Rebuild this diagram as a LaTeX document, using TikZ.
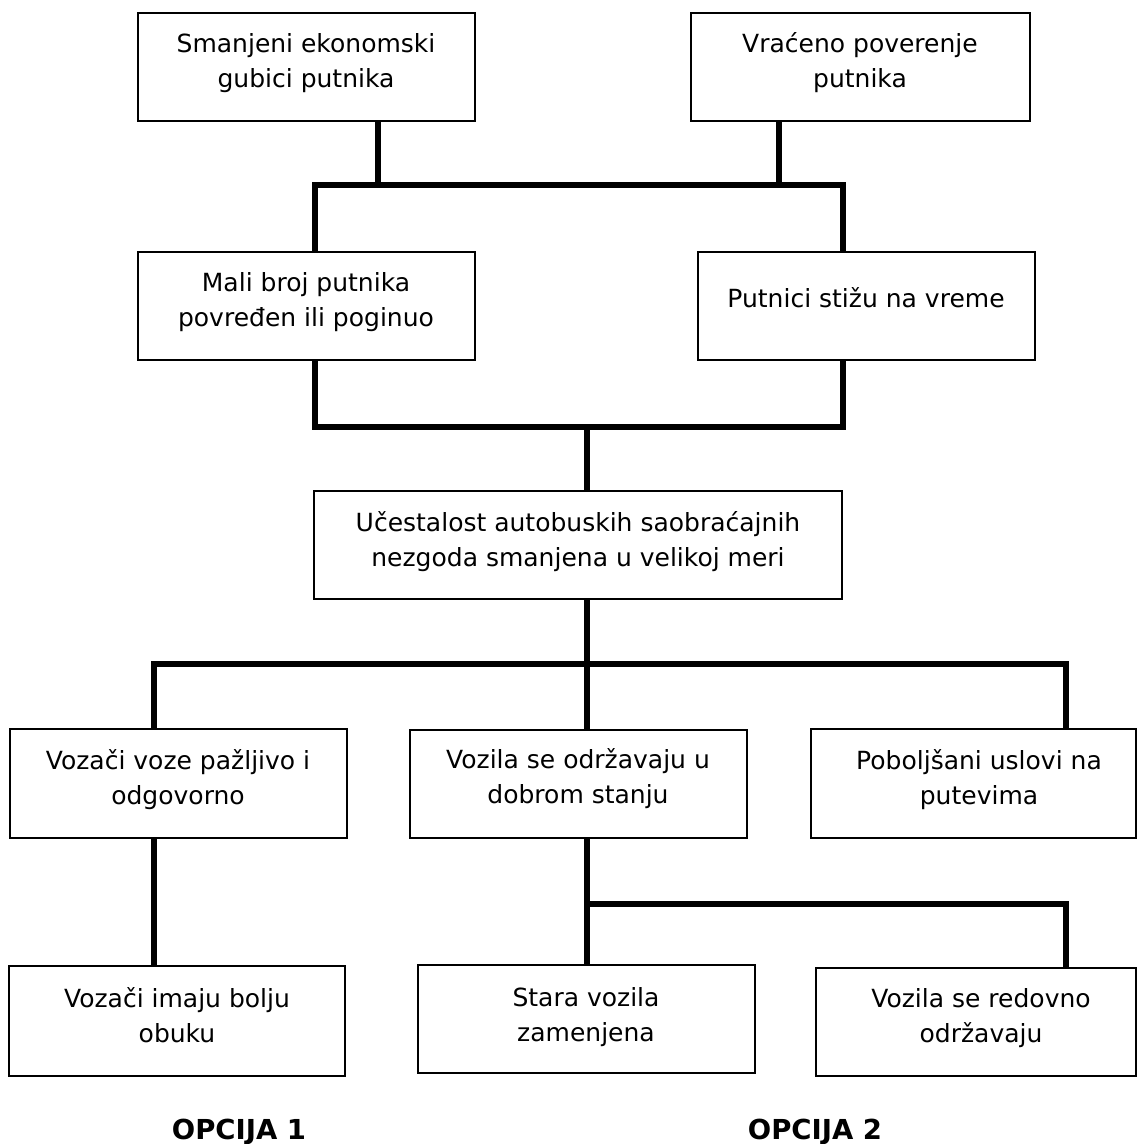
\documentclass[tikz,border=0pt]{standalone}
\usepackage{fontspec}
\setmainfont{DejaVu Sans}
\begin{document}
\begin{tikzpicture}[x=1pt,y=-1pt,
  box/.style={draw=black, line width=1.6pt, inner sep=0pt,
              minimum width=337pt, minimum height=108pt},
  txt/.style={align=center, inner sep=0pt,
              font=\fontsize{25}{35}\selectfont},
  conn/.style={line width=6pt, line join=miter},
  opt/.style={inner sep=0pt, anchor=base, font=\bfseries\fontsize{27.5}{30}\selectfont}]

\useasboundingbox (0,0) rectangle (1138,1144);

% boxes
\node[box] (b1) at (306.5,67) {};
\node[box, minimum width=339pt] (b2) at (860.5,67) {};
\node[box] (b3) at (306.5,306) {};
\node[box] (b4) at (866.5,306) {};
\node[box, minimum width=528pt] (b5) at (578,545) {};
\node[box, minimum height=109pt] (b6) at (178.5,783.5) {};
\node[box] (b7) at (578.5,784) {};
\node[box, minimum width=325pt, minimum height=109pt] (b8) at (973.5,783.5) {};
\node[box, minimum width=336pt, minimum height=110pt] (b9) at (177,1021) {};
\node[box] (b10) at (586.5,1019) {};
\node[box, minimum width=320pt] (b11) at (976,1022) {};

% box texts
\node[txt] (t1) at (306,63) {Smanjeni ekonomski\\gubici putnika};
\node[txt] (t2) at (860,63) {Vraćeno poverenje\\putnika};
\node[txt] (t3) at (306,302) {Mali broj putnika\\povređen ili poginuo};
\node[txt, anchor=base] (t4) at (866,307) {Putnici stižu na vreme};
\node[txt] (t5) at (578,542) {Učestalost autobuskih saobraćajnih\\nezgoda smanjena u velikoj meri};
\node[txt] (t6) at (178,780) {Vozači voze pažljivo i\\odgovorno};
\node[txt] (t7) at (578,779) {Vozila se održavaju u\\dobrom stanju};
\node[txt] (t8) at (979,780) {Poboljšani uslovi na\\putevima};
\node[txt] (t9) at (177,1015) {Vozači imaju bolju\\obuku};
\node[txt] (t10) at (586,1017) {Stara vozila\\zamenjena};
\node[txt] (t11) at (981,1018) {Vozila se redovno\\održavaju};

% option labels
\node[opt] (o1) at (239,1139) {OPCIJA 1};
\node[opt] (o2) at (815,1139) {OPCIJA 2};

% junction points of the connector bars
\coordinate (c1) at (378,185);
\coordinate (c2) at (779,185);
\coordinate (h1l) at (315,185);
\coordinate (h1r) at (843,185);
\coordinate (h2l) at (315,427);
\coordinate (h2r) at (843,427);
\coordinate (c3) at (587,427);
\coordinate (h3l) at (154,664);
\coordinate (h3r) at (1066,664);
\coordinate (c4) at (587,664);
\coordinate (h4l) at (587,904);
\coordinate (h4r) at (1066,904);

% connectors
\draw[conn] (b1.south -| c1) -- (c1);
\draw[conn] (b2.south -| c2) -- (c2);
\draw[conn] (b3.north -| h1l) |- (h1r) -- (b4.north -| h1r);
\draw[conn] (b3.south -| h2l) |- (h2r) -- (b4.south -| h2r);
\draw[conn] (c3) -- (b5.north -| c3);
\draw[conn] (b6.north -| h3l) |- (h3r) -- (b8.north -| h3r);
\draw[conn] (b5.south -| c4) -- (b7.north -| c4);
\draw[conn] (b6.south -| h3l) -- (b9.north -| h3l);
\draw[conn] (b7.south -| h4l) -- (b10.north -| h4l);
\draw[conn] (h4l) -| (b11.north -| h4r);
\end{tikzpicture}
\end{document}
